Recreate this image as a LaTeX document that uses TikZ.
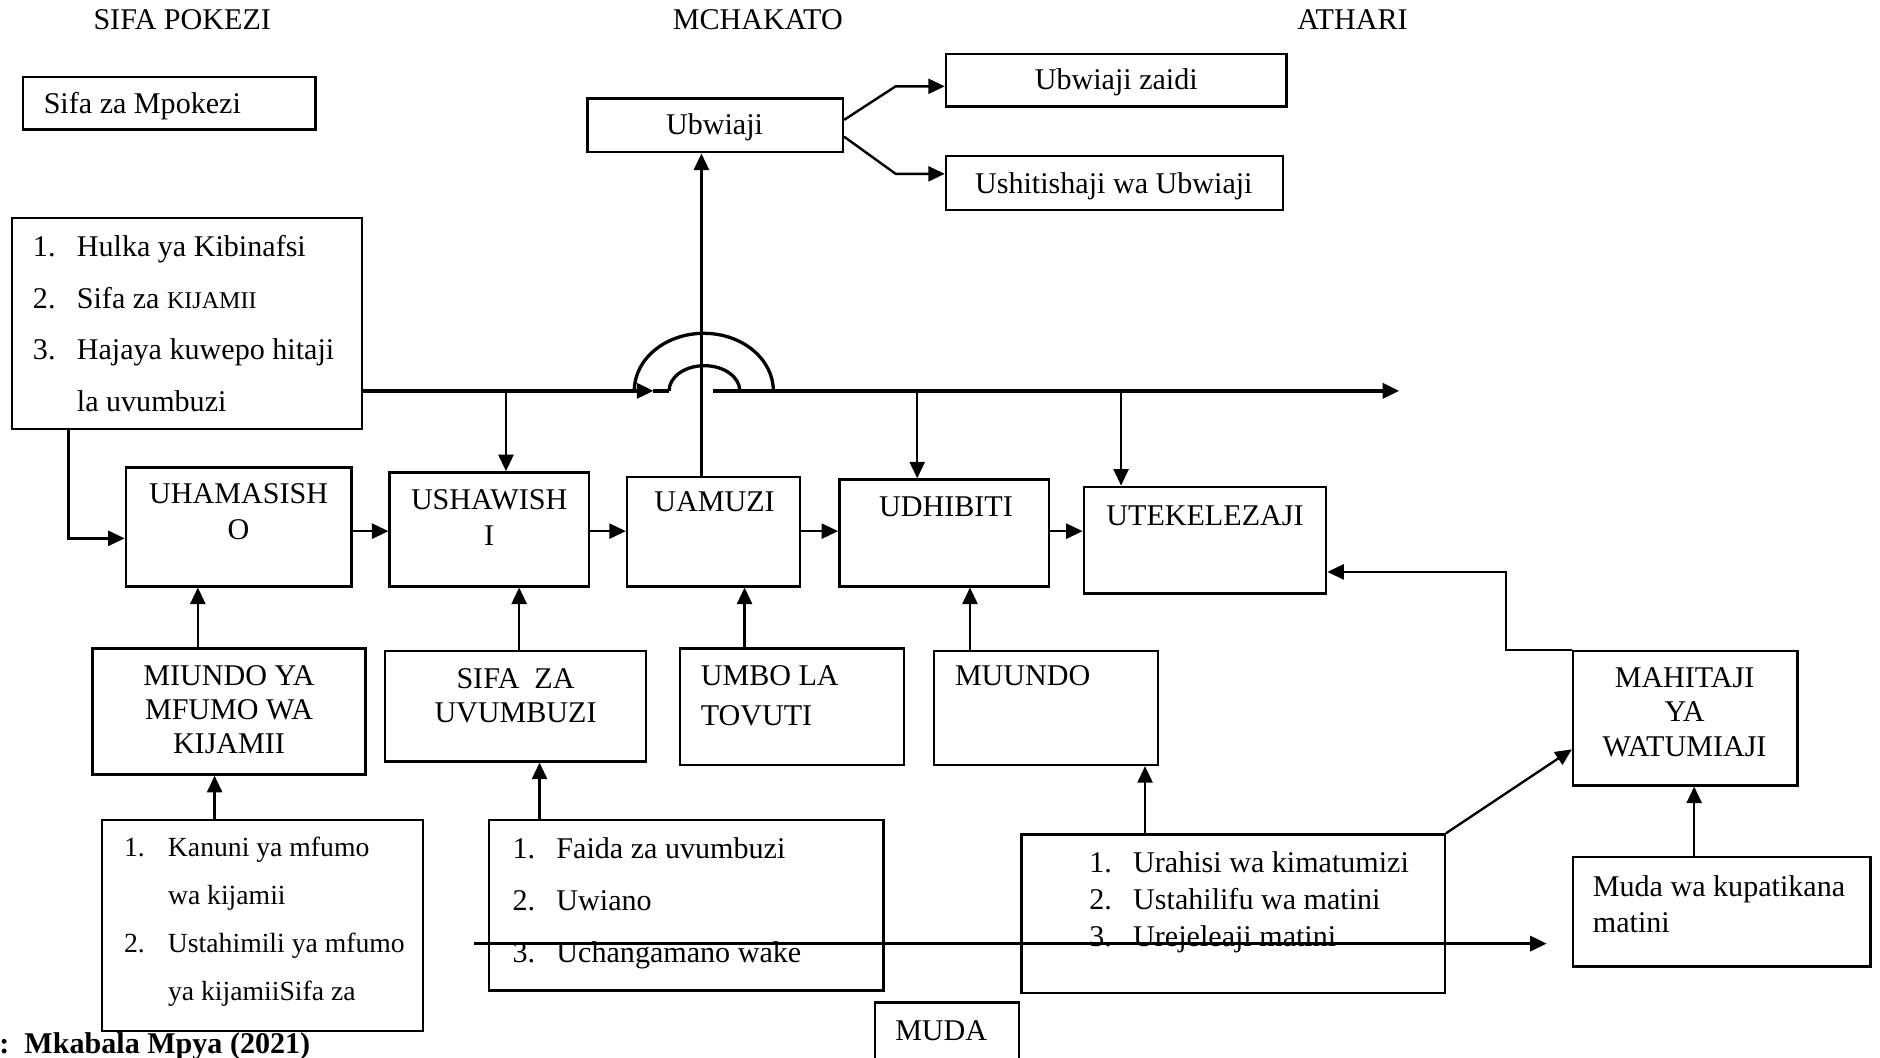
\documentclass[tikz,border=0pt]{standalone}
\usepackage{fontspec}
\setmainfont{Liberation Serif}
\usetikzlibrary{arrows.meta,fit}
\newcommand{\numitem}[1]{\makebox[14.6pt][l]{#1}}

\begin{document}
\begin{tikzpicture}[x=0.014cm, y=0.014cm,
  box/.style={draw, line width=0.8pt, inner sep=0pt},
  txt/.style={inner sep=0pt, font=\fontsize{10}{12}\selectfont},
  arr/.style={-{Triangle[length=5.5pt,width=5pt]}, line width=0.8pt},
  main/.style={line width=1.1pt}]
  \useasboundingbox (0,0) rectangle (1568,-882);

  % Column titles
  \node[txt, anchor=base] (tSifa) at (152,-25) {SIFA POKEZI};
  \node[txt, anchor=base] (tMchakato) at (632,-25) {MCHAKATO};
  \node[txt, anchor=base] (tAthari) at (1128,-25) {ATHARI};

  % Sifa za Mpokezi
  \node[box, fit={(19,-64) (263,-108)}] (mpokezi) {};
  \node[txt, anchor=base west] at (36,-95) {Sifa za Mpokezi};

  % Ubwiaji and its outcomes
  \node[box, fit={(490,-82) (703,-127)}] (ubw) {};
  \node[txt, anchor=base] at (596,-112) {Ubwiaji};
  \node[box, fit={(789,-45) (1073,-89)}] (zaidi) {};
  \node[txt, anchor=base] at (931,-75) {Ubwiaji zaidi};
  \node[box, fit={(789,-130) (1070,-175)}] (shitisha) {};
  \node[txt, anchor=base] at (929,-161) {Ushitishaji wa Ubwiaji};

  % Sifa pokezi list
  \node[box, fit={(10,-182) (302,-358)}] (hulka) {};
  \node[txt, anchor=north west, align=left, font=\fontsize{10}{17.1}\selectfont] at (27,-196)
    {\numitem{1.}Hulka ya Kibinafsi\\
     \numitem{2.}Sifa za {\fontsize{8}{8}\selectfont KIJAMII}\\
     \numitem{3.}Hajaya kuwepo hitaji\\
     \numitem{}la uvumbuzi};

  % Process boxes
  \node[box, fit={(105,-390) (293,-489)}] (uham) {};
  \node[txt, anchor=north, align=center, font=\fontsize{10}{11.9}\selectfont] at (199,-403) {UHAMASISH\\O};
  \node[box, fit={(325,-394) (491,-489)}] (ushaw) {};
  \node[txt, anchor=north, align=center, font=\fontsize{10}{11.9}\selectfont] at (408,-408) {USHAWISH\\I};
  \node[box, fit={(523,-398) (667,-489)}] (uam) {};
  \node[txt, anchor=base] at (596,-427) {UAMUZI};
  \node[box, fit={(700,-400) (875,-489)}] (udhib) {};
  \node[txt, anchor=base] at (789,-431) {UDHIBITI};
  \node[box, fit={(904,-406) (1106,-495)}] (utek) {};
  \node[txt, anchor=base] at (1005,-438) {UTEKELEZAJI};

  % Factor boxes
  \node[box, fit={(77,-541) (305,-646)}] (miundo) {};
  \node[txt, anchor=north, align=center, font=\fontsize{10}{11.3}\selectfont] at (191,-555) {MIUNDO YA\\MFUMO WA\\KIJAMII};
  \node[box, fit={(321,-543) (539,-635)}] (sifaz) {};
  \node[txt, anchor=north, align=center, font=\fontsize{10}{11.5}\selectfont] at (430,-557) {SIFA\ \ ZA\\UVUMBUZI};
  \node[box, fit={(567,-541) (754,-638)}] (umbo) {};
  \node[txt, anchor=north west, align=left, font=\fontsize{10}{13}\selectfont] at (584,-555) {UMBO LA\\TOVUTI};
  \node[box, fit={(779,-543) (966,-638)}] (muundo) {};
  \node[txt, anchor=base west] at (796,-572) {MUUNDO};
  \node[box, fit={(1312,-543) (1499,-655)}] (mahitaji) {};
  \node[txt, anchor=north, align=center, font=\fontsize{10}{11.5}\selectfont] at (1405,-556) {MAHITAJI\\YA\\WATUMIAJI};

  % Bottom lists
  \node[box, fit={(85,-684) (353,-860)}] (kanuni) {};
  \node[txt, anchor=north west, align=left, font=\fontsize{9.2}{15.9}\selectfont] at (103,-698)
    {\numitem{1.}Kanuni ya mfumo\\
     \numitem{}wa kijamii\\
     \numitem{2.}Ustahimili ya mfumo\\
     \numitem{}ya kijamiiSifa za};
  \node[box, fit={(408,-684) (737,-826)}] (faida) {};
  \node[txt, anchor=north west, align=left, font=\fontsize{10}{17.3}\selectfont] at (427,-698)
    {\numitem{1.}Faida za uvumbuzi\\
     \numitem{2.}Uwiano\\
     \numitem{3.}Uchangamano wake};
  \node[box, fit={(852,-696) (1205,-828)}] (urahisi) {};
  \node[txt, anchor=north west, align=left, font=\fontsize{10}{12.3}\selectfont] at (908,-710)
    {\numitem{1.}Urahisi wa kimatumizi\\
     \numitem{2.}Ustahilifu wa matini\\
     \numitem{3.}Urejeleaji matini};
  \node[box, fit={(1312,-715) (1560,-806)}] (muda) {};
  \node[txt, anchor=north west, align=left, font=\fontsize{10}{11.9}\selectfont] at (1328,-730)
    {Muda wa kupatikana\\matini};

  % Time axis
  \node[box, fit={(730,-836) (850,-890)}] (mudaBox) {};
  \node[txt, anchor=base] at (785,-868) {MUDA};
  \coordinate (mudaStart) at (395,-787);
  \coordinate (mudaEnd) at (1290,-787);
  \draw[arr, line width=1pt] (mudaStart) -- (mudaEnd);

  % Source
  \node[txt, anchor=base west, font=\fontsize{10}{12}\selectfont\bfseries] (chanzo) at (-1,-879) {:\ \ Mkabala Mpya (2021)};

  % Main line with the jump
  \coordinate (jumpL) at (558,-326);
  \coordinate (jumpR) at (595,-326);
  \coordinate (lineEnd) at (1167,-326);
  \draw[main, -{Triangle[length=5.5pt,width=5pt]}] (hulka.east |- 0,-326) -- (545,-326);
  \draw[main] (545,-326) -- (jumpL);
  \draw[main] (529,-326) arc[start angle=180, end angle=0, x radius=58, y radius=48];
  \draw[main] (jumpL) arc[start angle=180, end angle=0, x radius=29.5, y radius=21];
  \draw[main, -{Triangle[length=5.5pt,width=5pt]}] (jumpR) -- (lineEnd);

  % Arrows down from the main line
  \draw[arr] (422,-326) -- (ushaw.north -| 422,0);
  \draw[arr] (765,-326) -- (udhib.north -| 765,0);
  \draw[arr] (935,-326) -- (utek.north -| 935,0);

  % Arrows
  \draw[arr] (uam.north -| 585,0) -- (ubw.south -| 585,0);
  \draw[arr] (ubw.east |- 0,-100) -- (747,-72) -- (zaidi.west |- 0,-72);
  \draw[arr] (ubw.east |- 0,-114) -- (747,-145) -- (shitisha.west |- 0,-145);
  \draw[arr] (hulka.south -| 57,0) |- (uham.west |- 0,-449);
  \draw[arr] (uham.east |- 0,-443) -- (ushaw.west |- 0,-443);
  \draw[arr] (ushaw.east |- 0,-443) -- (uam.west |- 0,-443);
  \draw[arr] (uam.east |- 0,-443) -- (udhib.west |- 0,-443);
  \draw[arr] (udhib.east |- 0,-443) -- (utek.west |- 0,-443);
  \draw[arr] (miundo.north -| 165,0) -- (uham.south -| 165,0);
  \draw[arr] (sifaz.north -| 433,0) -- (ushaw.south -| 433,0);
  \draw[arr] (umbo.north -| 621,0) -- (uam.south -| 621,0);
  \draw[arr] (muundo.north -| 809,0) -- (udhib.south -| 809,0);
  \draw[arr] (kanuni.north -| 179,0) -- (miundo.south -| 179,0);
  \draw[arr] (faida.north -| 450,0) -- (sifaz.south -| 450,0);
  \draw[arr] (urahisi.north -| 955,0) -- (muundo.south -| 955,0);
  \draw[arr] (urahisi.north east) -- (mahitaji.west |- 0,-625);
  \draw[arr] (muda.north -| 1413,0) -- (mahitaji.south -| 1413,0);
  \draw[arr] (mahitaji.north west) -- ++(-55,0) |- (utek.east |- 0,-477);
\end{tikzpicture}
\end{document}
